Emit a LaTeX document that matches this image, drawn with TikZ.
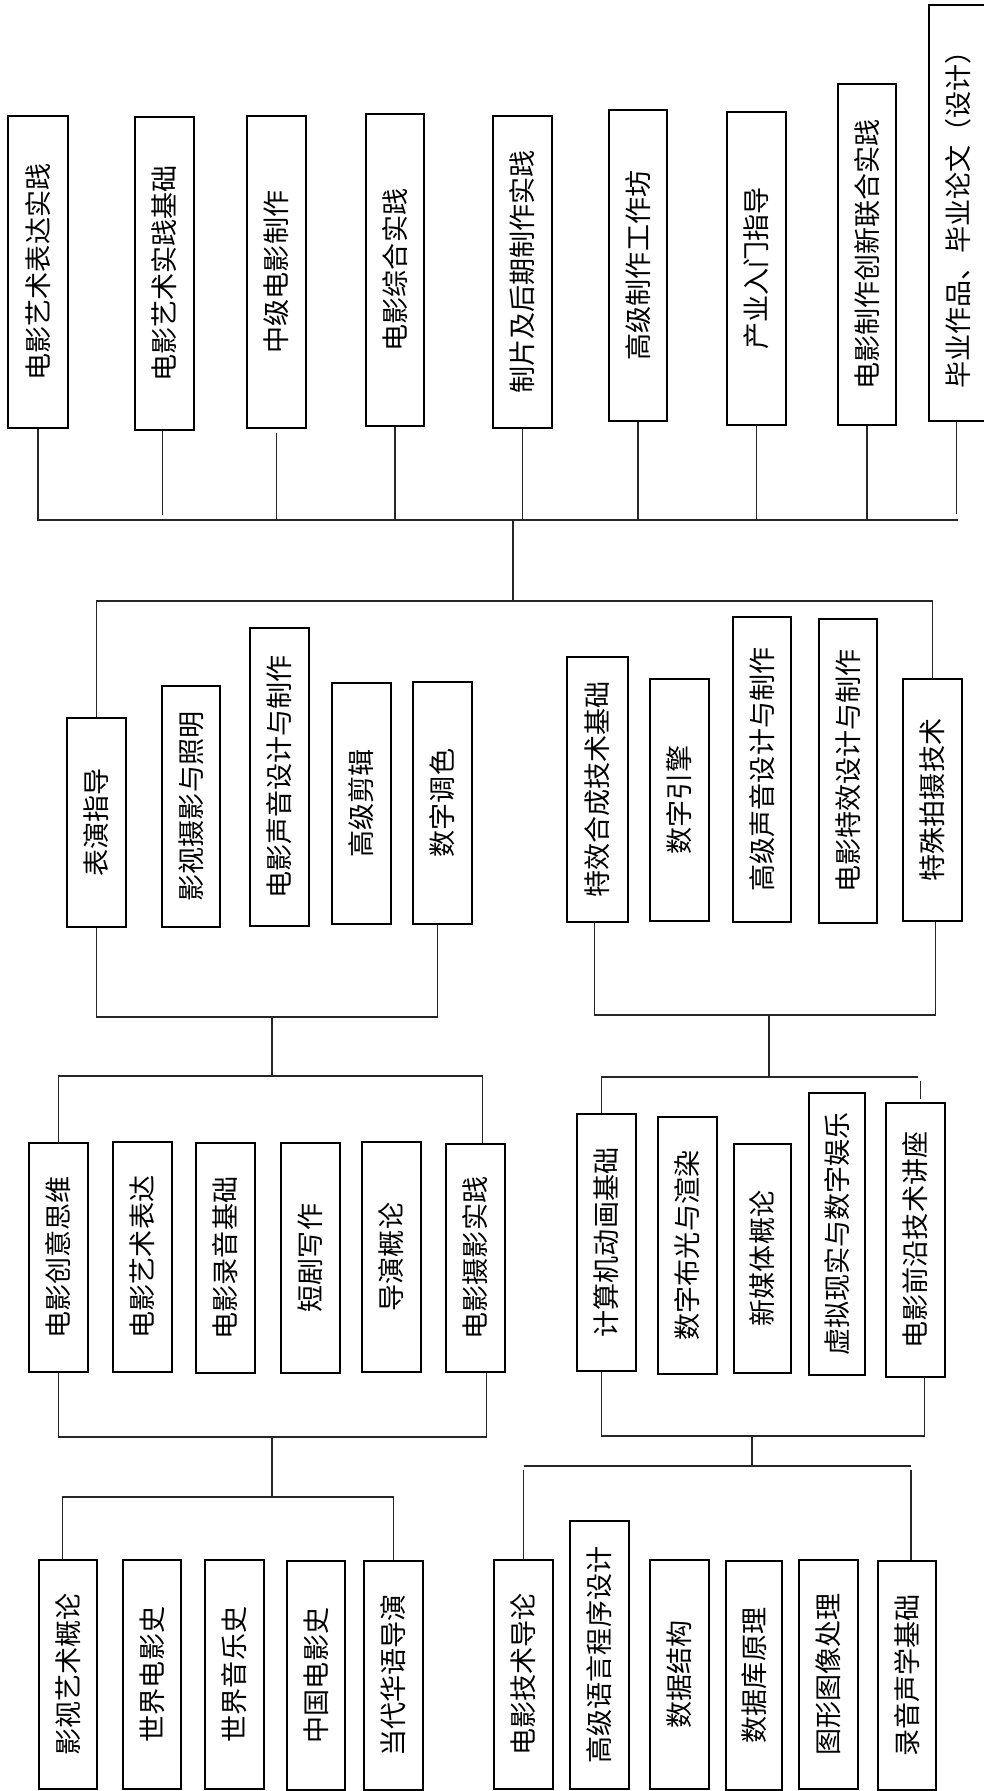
\documentclass[tikz,border=0pt]{standalone}
\usepackage{fontspec}
\newfontfamily\cjk{Noto Sans CJK SC}
\newcommand\course[7][box]{\node[#1, minimum width={(#5-#3)*0.75pt}, minimum height={(#6-#4)*0.75pt}] (#2) at ({(#3+#5)/2},{(#4+#6)/2}) {\rotatebox{90}{#7}};}
\begin{document}
\begin{tikzpicture}[x=0.75pt,y=-0.75pt,
  box/.style={draw=black, line width=0.9pt, fill=white, inner sep=0pt, font=\cjk\fontsize{20.3}{24}\selectfont},
  thickbox/.style={box, line width=1.7pt},
  link/.style={draw=black!85, line width=0.8pt}]
\useasboundingbox (0,0) rectangle (984,1791);
\clip (0,0) rectangle (984,1791);
% level 1 (top)
\course{b1}{8}{116}{68}{428}{电影艺术表达实践}
\course{b2}{135}{117}{194}{430}{电影艺术实践基础}
\course{b3}{247}{116}{306}{428}{中级电影制作}
\course{b4}{366}{114}{424}{426}{电影综合实践}
\course{b5}{493}{116}{552}{428}{制片及后期制作实践}
\course{b6}{609}{110}{667}{421}{高级制作工作坊}
\course{b7}{727}{112}{786}{425}{产业入门指导}
\course{b8}{838}{84}{896}{425}{电影制作创新联合实践}
\course{b9}{929}{5}{988}{421}{毕业作品、毕业论文（设计）}
% level 2
\course{c1}{67}{718}{126}{927}{表演指导}
\course{c2}{162}{686}{220}{927}{影视摄影与照明}
\course{c3}{250}{628}{309}{926}{电影声音设计与制作}
\course{c4}{332}{683}{391}{924}{高级剪辑}
\course{c5}{413}{682}{472}{924}{数字调色}
\course{d1}{567}{657}{628}{922}{特效合成技术基础}
\course{d2}{650}{679}{709}{921}{数字引擎}
\course{d3}{733}{617}{791}{922}{高级声音设计与制作}
\course{d4}{819}{619}{877}{923}{电影特效设计与制作}
\course{d5}{903}{679}{962}{921}{特殊拍摄技术}
% level 3
\course{e1}{29}{1143}{88}{1372}{电影创意思维}
\course{e2}{113}{1142}{172}{1372}{电影艺术表达}
\course{e3}{196}{1143}{255}{1373}{电影录音基础}
\course{e4}{281}{1143}{340}{1373}{短剧写作}
\course{e5}{362}{1142}{421}{1372}{导演概论}
\course{e6}{446}{1144}{505}{1372}{电影摄影实践}
\course{f1}{577}{1114}{636}{1371}{计算机动画基础}
\course{f2}{658}{1117}{717}{1374}{数字布光与渲染}
\course{f3}{734}{1144}{791}{1373}{新媒体概论}
\course[thickbox]{f4}{809}{1093}{865}{1375}{虚拟现实与数字娱乐}
\course{f5}{886}{1103}{945}{1377}{电影前沿技术讲座}
% level 4
\course{g1}{39}{1560}{97}{1789}{影视艺术概论}
\course{g2}{123}{1560}{181}{1789}{世界电影史}
\course{g3}{205}{1560}{264}{1789}{世界音乐史}
\course{g4}{287}{1561}{345}{1790}{中国电影史}
\course{g5}{364}{1561}{423}{1790}{当代华语导演}
\course{h1}{494}{1560}{553}{1789}{电影技术导论}
\course{h2}{570}{1521}{629}{1789}{高级语言程序设计}
\course{h3}{650}{1560}{709}{1789}{数据结构}
\course[thickbox]{h4}{726}{1561}{782}{1790}{数据库原理}
\course{h5}{799}{1560}{858}{1789}{图形图像处理}
\course[thickbox]{h6}{878}{1561}{936}{1790}{录音声学基础}
% junction coordinates
\coordinate (T0) at (513,520);
\coordinate (TR) at (958,520);
\coordinate (M0) at (513,601);
\coordinate (L2) at (272,1017);
\coordinate (L3) at (272,1076);
\coordinate (L4) at (272,1437);
\coordinate (L5) at (272,1497);
\coordinate (R2) at (769,1015);
\coordinate (R3) at (769,1077);
\coordinate (R3r) at (918,1077);
\coordinate (R4) at (752,1436);
\coordinate (R5) at (752,1466);
% top bus
\draw[link] (b1.south) -- (b1.south |- T0) -- (TR);
\draw[link] ([xshift=-1.5pt]b2.south) -- ++(0,84);
\draw[link] ([yshift=-3pt]b3.south) -- (b3.south |- T0);
\draw[link] (b4.south) -- (b4.south |- T0);
\draw[link] (b5.south) -- (b5.south |- T0);
\draw[link] (b6.south) -- (b6.south |- T0);
\draw[link] (b7.south) -- (b7.south |- T0);
\draw[link] (b8.south) -- (b8.south |- T0);
\draw[link] ([xshift=-1.5pt]b9.south) -- ++(0,92);
\draw[link] (T0) -- (M0);
% level 2 bus
\draw[link] (c1.north) |- (d5.north |- M0) -- (d5.north);
\draw[link] (c1.south) |- ([xshift=-4pt]c5.south |- L2) -- ([xshift=-4pt]c5.south);
\draw[link] ([xshift=-2.5pt]d1.south) |- ([xshift=2pt]d5.south |- R2) -- ([xshift=2pt]d5.south);
\draw[link] (L2) -- (L3);
\draw[link] (R2) -- (R3);
% level 3 left
\draw[link] (e1.north) |- ([xshift=5pt]e6.north |- L3) -- ([xshift=5pt]e6.north);
\draw[link] (e1.south) |- ([xshift=8pt]e6.south |- L4) -- ([xshift=8pt]e6.south);
\draw[link] (L4) -- (L5);
% level 3 right
\draw[link] ([xshift=-4pt]f1.north) |- (R3r);
\draw[link] ([xshift=4pt,yshift=2.25pt]f5.north) -- ([xshift=4pt,yshift=15.75pt]f5.north);
\draw[link] ([xshift=-4pt]f1.south) |- ([xshift=6.4pt]f5.south |- R4) -- ([xshift=6.4pt]f5.south);
\draw[link] (R4) -- (R5);
% level 4
\draw[link] ([xshift=-4pt]g1.north) |- (g5.north |- L5) -- (g5.north);
\draw[link] (h1.north |- R5) -- ([xshift=3pt]h6.north |- R5);
\draw[link] (h1.north) -- ([yshift=66.75pt]h1.north);
\draw[link] ([xshift=3pt]h6.north) -- ([xshift=3pt,yshift=67.5pt]h6.north);
\end{tikzpicture}
\end{document}
